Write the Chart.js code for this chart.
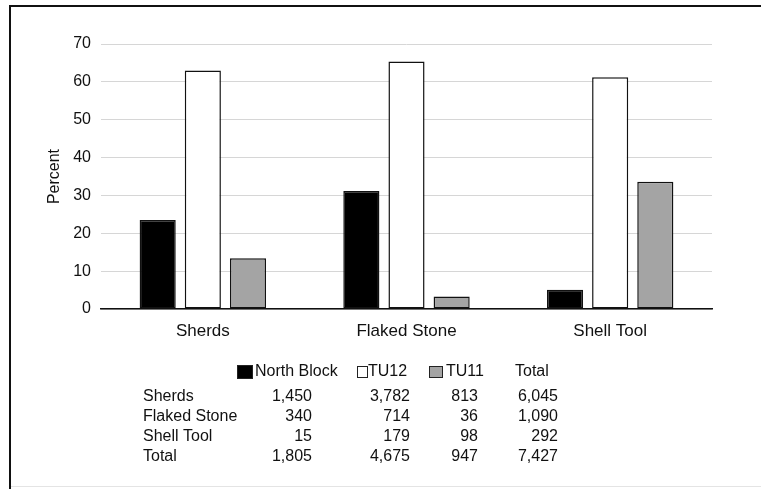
<!DOCTYPE html>
<html>
<head>
<meta charset="utf-8">
<script src="https://cdn.jsdelivr.net/npm/chart.js@4/dist/chart.umd.min.js"></script>
<style>
  html, body { margin: 0; padding: 0; background: #fff; }
  #wrap { position: relative; width: 761px; height: 489px; }
</style>
</head>
<body>
<div id="wrap"><canvas id="chart" width="761" height="489"></canvas></div>
<script>
// percent of each category's total
const categories = ['Sherds', 'Flaked Stone', 'Shell Tool'];
const northBlock = [23.5, 31.2, 5.1];
const tu12 = [63.0, 65.4, 61.2];
const tu11 = [13.4, 3.3, 33.6];
const yTicks = [0, 10, 20, 30, 40, 50, 60, 70];

// counts table under the chart
const tableRows = ['Sherds', 'Flaked Stone', 'Shell Tool', 'Total'];
const countsNorth = [1450, 340, 15, 1805];
const countsTU12 = [3782, 714, 179, 4675];
const countsTU11 = [813, 36, 98, 947];
const countsTotal = [6045, 1090, 292, 7427];

const FONT = '"Liberation Sans", Arial, sans-serif';

// draws the frame, legend row and counts table
const tablePlugin = {
  id: 'countsTable',
  afterDraw(chart) {
    const ctx = chart.ctx;
    ctx.save();
    // frame (top and left edges)
    ctx.strokeStyle = '#111';
    ctx.lineWidth = 2;
    ctx.beginPath();
    ctx.moveTo(10, 489);
    ctx.lineTo(10, 6);
    ctx.lineTo(761, 6);
    ctx.stroke();
    ctx.strokeStyle = '#e4e4e4';
    ctx.lineWidth = 1;
    ctx.beginPath();
    ctx.moveTo(11, 486.5);
    ctx.lineTo(761, 486.5);
    ctx.stroke();

    ctx.font = '16px ' + FONT;
    ctx.fillStyle = '#111';
    ctx.textBaseline = 'middle';

    // legend row built from the datasets
    const boxes = [
      { x: 237, w: 16, h: 14, text: 255 },
      { x: 357, w: 11, h: 12, text: 368 },
      { x: 429, w: 14, h: 12, text: 446 }
    ];
    const legendY = 372;
    chart.data.datasets.forEach((ds, i) => {
      const b = boxes[i];
      ctx.fillStyle = ds.backgroundColor;
      ctx.fillRect(b.x, legendY - b.h / 2, b.w, b.h);
      ctx.strokeStyle = '#222';
      ctx.lineWidth = 1;
      ctx.strokeRect(b.x + 0.5, legendY - b.h / 2 + 0.5, b.w - 1, b.h - 1);
      ctx.fillStyle = '#111';
      ctx.textAlign = 'left';
      ctx.fillText(ds.label, b.text, legendY);
    });
    ctx.fillText('Total', 515, legendY);

    const cols = [
      { right: 312, vals: countsNorth },
      { right: 410, vals: countsTU12 },
      { right: 478, vals: countsTU11 },
      { right: 558, vals: countsTotal }
    ];
    tableRows.forEach((name, r) => {
      const y = 397 + r * 20;
      ctx.textAlign = 'left';
      ctx.fillText(name, 143, y);
      ctx.textAlign = 'right';
      cols.forEach(c => ctx.fillText(c.vals[r].toLocaleString('en-US'), c.right, y));
    });
    ctx.restore();
  }
};

new Chart(document.getElementById('chart'), {
  type: 'bar',
  data: {
    labels: categories,
    datasets: [
      { label: 'North Block', data: northBlock, backgroundColor: '#000000' },
      { label: 'TU12', data: tu12, backgroundColor: '#ffffff' },
      { label: 'TU11', data: tu11, backgroundColor: '#a4a4a4' }
    ]
  },
  options: {
    responsive: false,
    animation: false,
    events: [],
    datasets: {
      bar: {
        borderColor: '#111',
        borderWidth: 1.5,
        borderSkipped: false,
        categoryPercentage: 0.665,
        barPercentage: 0.8
      }
    },
    layout: { padding: { top: 44, left: 45, right: 49, bottom: 140 } },
    plugins: {
      legend: { display: false },
      tooltip: { enabled: false }
    },
    scales: {
      x: {
        grid: { display: false, drawTicks: false },
        border: { color: '#111', width: 1.5 },
        ticks: { color: '#111', font: { family: FONT, size: 17 }, padding: 12 },
        afterFit: s => { s.height = 40; }
      },
      y: {
        min: 0,
        max: 70,
        afterBuildTicks: s => { s.ticks = yTicks.map(v => ({ value: v })); },
        grid: { color: '#d6d6d6', lineWidth: 1, drawTicks: false },
        border: { display: false },
        ticks: { color: '#111', font: { family: FONT, size: 16 }, padding: 10 },
        title: {
          display: true,
          text: 'Percent',
          color: '#111',
          font: { family: FONT, size: 16 },
          padding: { top: 0, bottom: 0 }
        },
        afterFit: s => { s.width = 56; }
      }
    }
  },
  plugins: [tablePlugin]
});
</script>
</body>
</html>
